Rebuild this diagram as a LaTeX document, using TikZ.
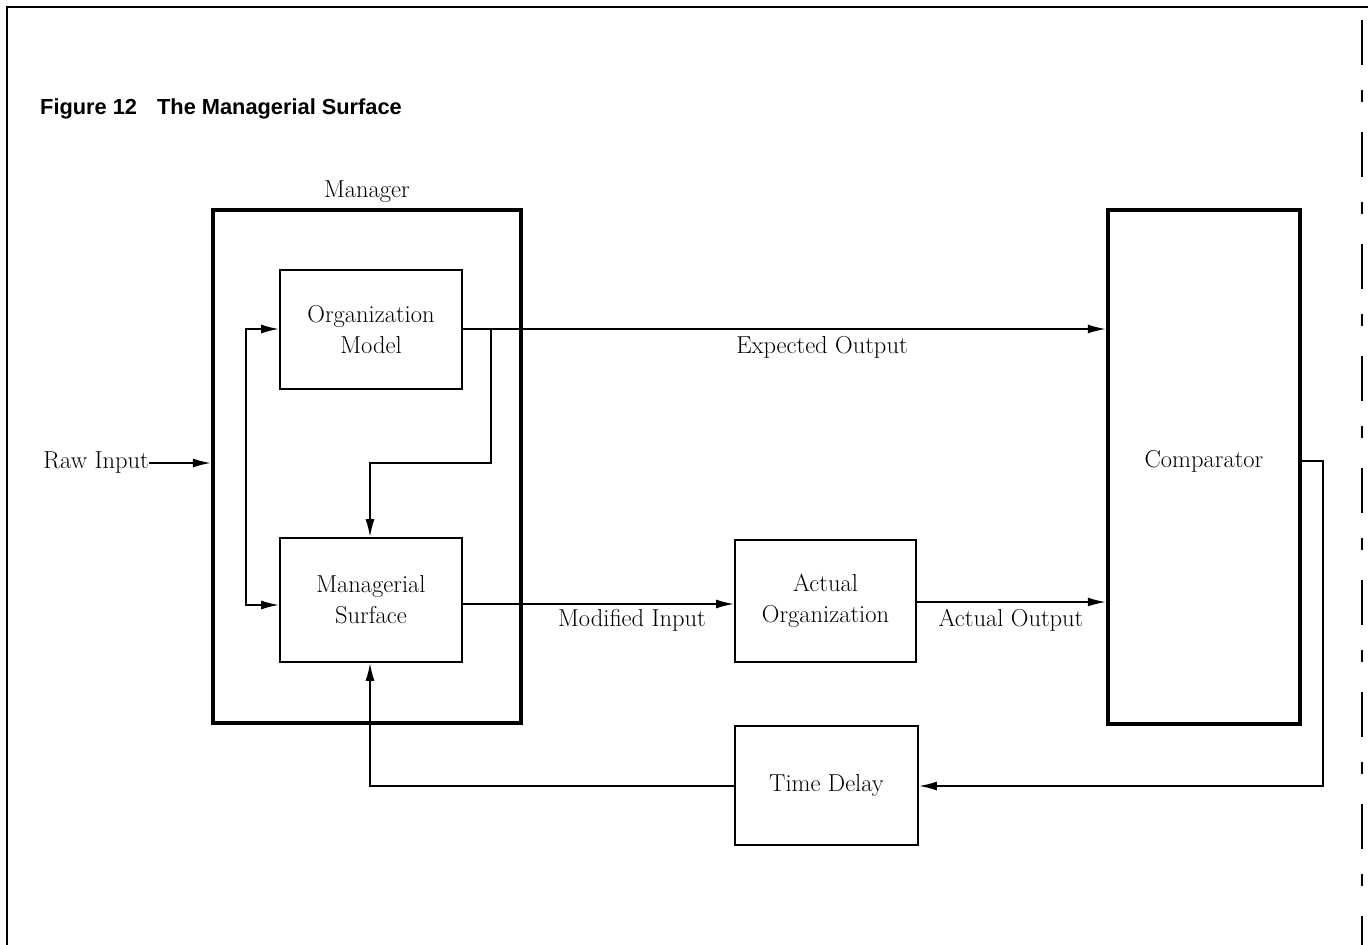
\documentclass[tikz,border=0pt]{standalone}
\usepackage{fontspec}
\newfontfamily\titlefont{Liberation Sans}
\usetikzlibrary{arrows.meta}
\begin{document}
\begin{tikzpicture}[x=1pt,y=-1pt,
  every node/.style={font=\fontsize{24.5}{31}\selectfont},
  blk/.style={draw,line width=1.8pt,minimum width=#1,inner sep=0pt,align=center},
  thick box/.style={draw,line width=4.2pt,inner sep=0pt},
  conn/.style={line width=1.8pt},
  arr/.style={conn,-{Latex[length=18pt,width=9pt]}},
  lbl/.style={inner sep=0pt}
]
\useasboundingbox (0,0) rectangle (1368,945);
% page frame (scan edges)
\draw[line width=1.2pt] (7,945) -- (7,7) -- (1368,7);
\draw[line width=1.2pt,dash pattern=on 45pt off 25pt on 12pt off 30pt] (1362,20) -- (1362,945);
% title
\node[lbl,anchor=base west,font=\titlefont\bfseries\fontsize{21.8}{26}\selectfont] (title) at (40,114) {Figure 12\hspace{20pt}The Managerial Surface};
% boxes
\node[thick box,minimum width=308pt,minimum height=513pt] (mgr) at (367,466.5) {};
\node[lbl] (mgrl) at (367,192) {Manager};
\node[blk=182pt,minimum height=119pt] (om) at (371,329.5) {Organization\\Model};
\node[blk=182pt,minimum height=124pt] (ms) at (371,600) {Managerial\\Surface};
\node[blk=181pt,minimum height=122pt] (ao) at (825.5,601) {Actual\\Organization};
\node[blk=183pt,minimum height=119pt] (td) at (826.5,785.5) {Time Delay};
\node[thick box,minimum width=192pt,minimum height=514pt] (cmp) at (1204,467) {};
\node[lbl] (cmpl) at (1204,461) {Comparator};
% raw input
\node[lbl,anchor=east] (raw) at (149,463) {Raw Input};
\draw[arr] (raw.east) -- (mgr.west |- raw.east);
% expected output
\draw[arr] (om.east |- 0,329) -- (cmp.west |- 0,329);
\node[lbl] (eo) at (822,347) {Expected Output};
% branch to managerial surface
\coordinate (b1) at (491,329);
\coordinate (b2) at (491,463);
\coordinate (b3) at (370,463);
\draw[arr] (b1) -- (b2) -- (b3) -- (b3 |- ms.north);
% left loop
\coordinate (l1) at (246,329);
\coordinate (l2) at (246,605);
\draw[arr] (l1) -- (l2) -- (ms.west |- l2);
\draw[arr] (l2) -- (l1) -- (om.west |- l1);
% modified input
\draw[arr] (ms.east |- 0,604) -- (ao.west |- 0,604);
\node[lbl] (mi) at (632,620) {Modified Input};
% actual output
\draw[arr] (ao.east |- 0,602) -- (cmp.west |- 0,602);
\node[lbl] (aol) at (1011,620) {Actual Output};
% feedback
\coordinate (f1) at (1323,461);
\coordinate (f2) at (1323,786);
\draw[arr] (cmp.east |- f1) -- (f1) -- (f2) -- (td.east |- f2);
\coordinate (g1) at (370,786);
\draw[arr] (td.west |- g1) -- (g1) -- (g1 |- ms.south);
\end{tikzpicture}
\end{document}
